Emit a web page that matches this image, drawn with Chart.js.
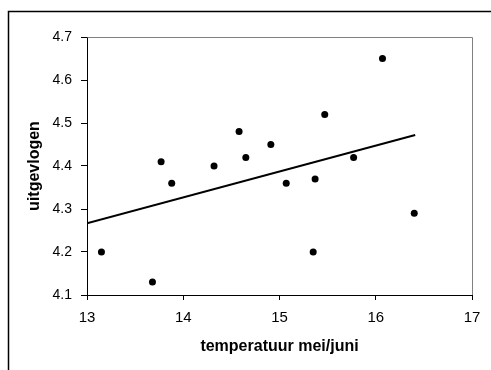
<!DOCTYPE html>
<html>
<head>
<meta charset="utf-8">
<script src="https://cdn.jsdelivr.net/npm/chart.js@4/dist/chart.umd.min.js"></script>
<style>
  html, body { margin: 0; padding: 0; background: #fff; }
  canvas { display: block; }
</style>
</head>
<body>
<canvas id="c" width="491" height="370"></canvas>
<script>
// Data
const temperature = [13.15, 13.68, 13.77, 13.88, 14.32, 14.58, 14.65, 14.91, 15.07, 15.35, 15.37, 15.47, 15.77, 16.07, 16.40];
const uitgevlogen = [4.20, 4.13, 4.41, 4.36, 4.40, 4.48, 4.42, 4.45, 4.36, 4.20, 4.37, 4.52, 4.42, 4.65, 4.29];
const trendX = [13.0, 16.41];
const trendY = [4.267, 4.472];
const xTickValues = [13, 14, 15, 16, 17];
const yTickValues = [4.1, 4.2, 4.3, 4.4, 4.5, 4.6, 4.7];
const xTitle = 'temperatuur mei/juni';
const yTitle = 'uitgevlogen';

const FONT = '"Liberation Sans", Arial, sans-serif';

const framePlugin = {
  id: 'frame',
  beforeDraw(chart) {
    const ctx = chart.ctx;
    ctx.save();
    ctx.fillStyle = '#fff';
    ctx.fillRect(0, 0, chart.width, chart.height);
    ctx.strokeStyle = '#000';
    ctx.lineWidth = 1.5;
    ctx.strokeRect(8.5, 11.5, 700, 700);
    ctx.restore();
  },
  afterDraw(chart) {
    const a = chart.chartArea;
    const ctx = chart.ctx;
    ctx.save();
    ctx.strokeStyle = '#808080';
    ctx.lineWidth = 1;
    ctx.beginPath();
    ctx.moveTo(Math.round(a.left) + 0.5, Math.round(a.top) + 0.5);
    ctx.lineTo(Math.round(a.right) + 0.5, Math.round(a.top) + 0.5);
    ctx.lineTo(Math.round(a.right) + 0.5, Math.round(a.bottom));
    ctx.stroke();
    ctx.restore();
  }
};

const points = temperature.map((t, i) => ({ x: t, y: uitgevlogen[i] }));
const trend = trendX.map((t, i) => ({ x: t, y: trendY[i] }));

new Chart(document.getElementById('c'), {
  type: 'scatter',
  data: {
    datasets: [
      {
        data: points,
        backgroundColor: '#000',
        borderColor: '#000',
        pointRadius: 3.5,
        pointHoverRadius: 3.5,
        borderWidth: 0,
        showLine: false,
        order: 2
      },
      {
        data: trend,
        showLine: true,
        borderColor: '#000',
        borderWidth: 2,
        pointRadius: 0,
        fill: false,
        order: 1
      }
    ]
  },
  options: {
    responsive: false,
    animation: false,
    devicePixelRatio: 1,
    layout: { padding: { left: 0, top: 37, right: 19, bottom: 0 } },
    plugins: {
      legend: { display: false },
      tooltip: { enabled: false }
    },
    scales: {
      x: {
        type: 'linear',
        min: 13, max: 17,
        afterBuildTicks: s => { s.ticks = xTickValues.map(v => ({ value: v })); },
        afterFit: s => { s.height = 75; },
        border: { display: true, color: '#000', width: 1 },
        grid: { display: true, drawOnChartArea: false, drawTicks: true, tickLength: 5, color: '#000' },
        ticks: {
          padding: 9,
          color: '#000',
          font: { family: FONT, size: 15 },
          maxRotation: 0,
          callback: v => String(v)
        },
        title: {
          display: true,
          text: xTitle,
          color: '#000',
          font: { family: FONT, size: 16, weight: 'bold' },
          padding: { top: 0, bottom: 14 }
        }
      },
      y: {
        type: 'linear',
        min: 4.1, max: 4.7,
        afterBuildTicks: s => { s.ticks = yTickValues.map(v => ({ value: v })); },
        afterFit: s => { s.width = 87; },
        border: { display: true, color: '#000', width: 1 },
        grid: { display: true, drawOnChartArea: false, drawTicks: true, tickLength: 6, color: '#000' },
        ticks: {
          padding: 9,
          color: '#000',
          font: { family: FONT, size: 14 },
          callback: v => Number(v).toFixed(1)
        },
        title: {
          display: true,
          text: yTitle,
          color: '#000',
          font: { family: FONT, size: 16, weight: 'bold' },
          padding: { top: 25, bottom: 0 }
        }
      }
    }
  },
  plugins: [framePlugin]
});
</script>
</body>
</html>
